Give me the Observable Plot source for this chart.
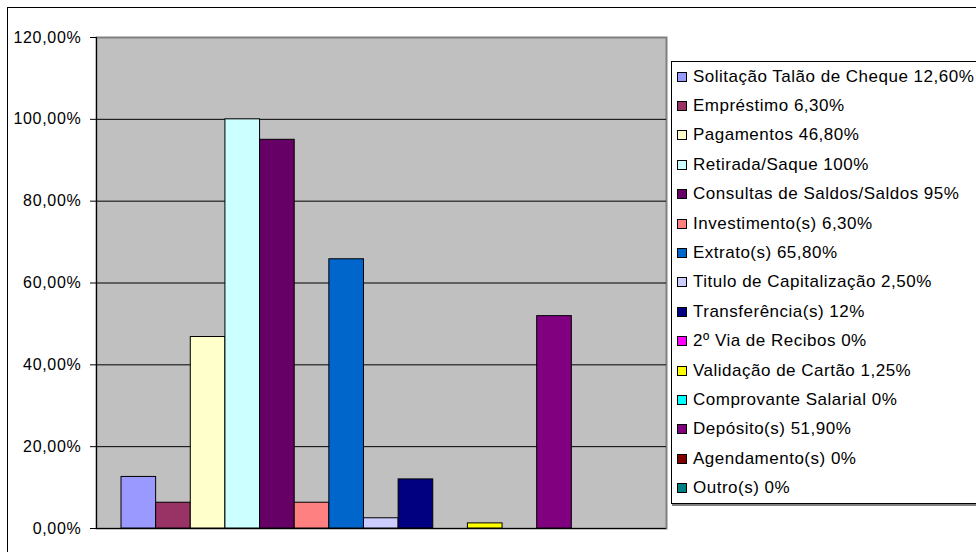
<!DOCTYPE html>
<html>
<head>
<meta charset="utf-8">
<script src="https://cdn.jsdelivr.net/npm/d3@7"></script>
<script src="https://cdn.jsdelivr.net/npm/@observablehq/plot@0.6"></script>
<style>
  html, body { margin: 0; padding: 0; background: #fff; }
  #chart { position: relative; width: 976px; height: 552px; overflow: hidden;
           font-family: "Liberation Sans", Arial, Helvetica, sans-serif; }
  #chart svg { position: absolute; left: 0; top: 0; }
  #outline { position: absolute; left: 7px; top: 7px; width: 1100px; height: 700px;
             border: 1.5px solid #000; pointer-events: none; z-index: 3; }
  #legend { position: absolute; left: 671px; top: 61px; width: 400px; height: 441px;
            border: 1px solid #000; background: #fff; box-shadow: 1px 2px 0 #808080; z-index: 2; }
  .item { display: flex; align-items: center; height: 29.4px; padding-left: 5px;
          font-size: 17px; letter-spacing: 0.5px; color: #000; white-space: nowrap; }
  .sw { width: 8px; height: 8px; border: 1px solid #000; margin-right: 6px; flex: none; }
</style>
</head>
<body>
<div id="chart">
  <div id="outline"></div>
  <div id="legend"></div>
</div>
<script>
// Serviços utilizados (percentual de respostas)
const categories = [
  "Solitação Talão de Cheque", "Empréstimo", "Pagamentos", "Retirada/Saque",
  "Consultas de Saldos/Saldos", "Investimento(s)", "Extrato(s)", "Titulo de Capitalização",
  "Transferência(s)", "2º Via de Recibos", "Validação de Cartão", "Comprovante Salarial",
  "Depósito(s)", "Agendamento(s)", "Outro(s)"
];
const values = [12.6, 6.3, 46.8, 100, 95, 6.3, 65.8, 2.5, 12, 0, 1.25, 0, 51.9, 0, 0];
const valueLabels = [
  "12,60%", "6,30%", "46,80%", "100%", "95%", "6,30%", "65,80%", "2,50%",
  "12%", "0%", "1,25%", "0%", "51,90%", "0%", "0%"
];
const colors = [
  "#9999FF", "#993366", "#FFFFCC", "#CCFFFF", "#660066", "#FF8080", "#0066CC", "#CCCCFF",
  "#000080", "#FF00FF", "#FFFF00", "#00FFFF", "#800080", "#800000", "#008080"
];
const yTicks = [0, 20, 40, 60, 80, 100, 120];

const data = categories.map((c, i) => ({category: c, value: values[i], color: colors[i]}));
const pct = d => d.toFixed(2).replace(".", ",") + "%";

const chart = Plot.plot({
  width: 976,
  height: 552,
  marginLeft: 96,
  marginRight: 310,
  marginTop: 37,
  marginBottom: 24,
  style: {
    fontFamily: "'Liberation Sans', Arial, Helvetica, sans-serif",
    fontSize: "16px",
    letterSpacing: "0.7px",
    color: "#000",
    background: "transparent",
    overflow: "visible"
  },
  x: {type: "band", domain: categories, range: [121, 640.6], padding: 0, round: false, axis: null},
  y: {domain: [0, 120], ticks: yTicks, label: null},
  color: {type: "identity"},
  marks: [
    Plot.frame({fill: "#c0c0c0", stroke: "#808080", strokeWidth: 2}),
    Plot.gridY(yTicks.slice(1, -1), {stroke: "#000", strokeOpacity: 1}),
    Plot.barY(data, {
      filter: d => d.value > 0,
      x: "category", y: "value", fill: "color",
      stroke: "#000", strokeWidth: 1
    }),
    Plot.ruleY([0], {stroke: "#000"}),
    Plot.frame({anchor: "left", stroke: "#000"}),
    Plot.axisY(yTicks, {tickSize: 6, tickPadding: 9, tickFormat: pct, stroke: "#000",
                        fontSize: 16, label: null})
  ]
});
document.getElementById("chart").prepend(chart);

// Legend: one swatch per series with its stated value
const legend = d3.select("#legend");
categories.forEach((c, i) => {
  const item = legend.append("div").attr("class", "item");
  item.append("span").attr("class", "sw").style("background", colors[i]);
  item.append("span").text(`${c} ${valueLabels[i]}`);
});
</script>
</body>
</html>
